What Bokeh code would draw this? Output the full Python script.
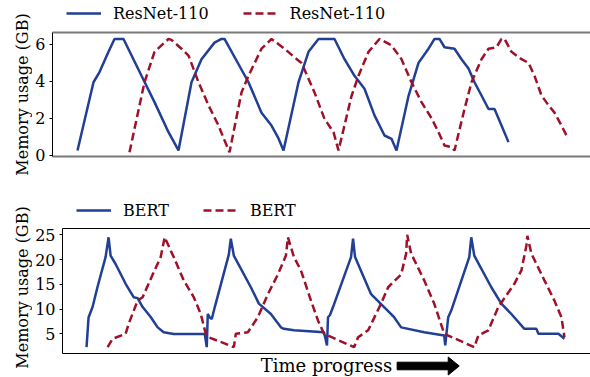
import math
from bokeh.plotting import figure
from bokeh.layouts import column, row
from bokeh.models import Range1d, LinearAxis, FixedTicker, Legend, LegendItem
from bokeh.embed import file_html
from bokeh.resources import INLINE
from bokeh.core.properties import value

BLUE = "#213f95"
RED = "#9f1029"
FONT = "DejaVu Serif"

# ---------------- data: ResNet-110 (time index, memory GB) ----------------
resnet_a_t = [76, 92, 98, 107, 113, 122, 140, 153, 167, 177, 190, 200, 213, 220, 223,
              247, 260, 270, 277, 282, 297, 307, 317, 333, 343, 353, 363, 373, 383, 390,
              395, 407, 417, 427, 433, 438, 443, 453, 460, 467, 473, 480, 487, 493, 500, 507]
resnet_a_mem = [0.25, 3.95, 4.5, 5.6, 6.3, 6.3, 4.3, 2.87, 1.24, 0.25, 3.95, 5.2, 6.1, 6.3, 6.3,
                3.95, 2.3, 1.6, 0.9, 0.25, 3.95, 5.6, 6.3, 6.3, 5.2, 4.3, 3.6, 2.15, 1.06, 0.88,
                0.25, 3.2, 5.0, 5.77, 6.3, 6.3, 5.85, 5.77, 5.2, 4.7, 3.95, 3.23, 2.5, 2.5, 1.6, 0.7]

resnet_b_t = [128, 143, 153, 167, 170, 180, 187, 197, 207, 217, 223, 228,
              240, 247, 260, 270, 283, 293, 300, 313, 323, 332, 337,
              350, 357, 367, 378, 390, 400, 410, 420, 430, 437, 443, 450, 453,
              463, 470, 480, 487, 495, 500, 503, 510, 520, 527, 533, 540, 547, 553, 560, 565]
resnet_b_mem = [0.15, 3.95, 5.6, 6.3, 6.25, 5.77, 5.4, 3.95, 2.7, 1.6, 0.8, 0.15,
                3.4, 4.3, 5.77, 6.3, 5.77, 5.3, 5.0, 3.4, 1.96, 1.24, 0.25,
                3.2, 4.3, 5.6, 6.3, 5.95, 5.2, 3.95, 2.87, 2.0, 1.24, 0.52, 0.43, 0.25,
                2.5, 3.95, 5.2, 5.77, 5.85, 6.3, 6.3, 5.6, 5.2, 5.0, 4.3, 3.23, 2.7, 2.3, 1.6, 1.06]

# ---------------- data: BERT ----------------
bert_a_t = [86, 88, 92, 97, 105, 108, 110, 115, 125, 133, 137, 142, 150, 157, 163, 173,
            204, 206, 207, 209, 211, 214, 228, 230, 233, 250, 258, 270, 280, 283, 293,
            323, 326, 327, 329, 332, 350, 352, 354, 370, 383, 393, 400, 423,
            443, 444, 447, 450, 468, 470, 473, 490, 500, 510, 523, 535, 537, 557, 563]
bert_a_mem = [2.3, 8.3, 10.4, 14.5, 20.5, 24.5, 20.8, 19.1, 15.1, 12.4, 12.2, 10.4, 8.4, 6.3, 5.3, 4.95,
              4.95, 2.3, 9.0, 8.3, 8.0, 10.4, 21.0, 24.2, 20.8, 14.4, 11.1, 9.0, 6.3, 6.0, 5.7,
              5.3, 2.65, 8.35, 8.8, 10.4, 20.5, 24.2, 20.5, 13.0, 10.4, 8.35, 6.3, 5.3,
              4.65, 2.65, 8.35, 9.7, 20.5, 24.5, 20.8, 14.4, 11.1, 9.0, 6.0, 6.0, 5.0, 5.0, 4.0]

bert_b_t = [107, 112, 125, 128, 137, 142, 153, 160, 164, 173, 183, 193, 200, 205, 208,
            233, 235, 247, 257, 267, 277, 285, 287, 293, 300, 310, 317, 323,
            353, 357, 367, 380, 387, 400, 405, 406, 410, 423, 433, 443,
            473, 477, 487, 497, 513, 520, 525, 526, 530, 543, 553, 560, 563]
bert_b_mem = [2.3, 4.0, 5.0, 7.0, 11.7, 12.4, 17.4, 20.5, 24.5, 20.5, 15.8, 12.4, 9.0, 5.0, 4.3,
              2.3, 5.0, 5.3, 8.35, 13.0, 17.0, 20.8, 24.5, 20.5, 17.8, 11.7, 7.7, 5.0,
              2.3, 4.3, 5.7, 11.1, 14.4, 17.0, 21.2, 25.0, 21.2, 15.8, 11.1, 5.0,
              2.3, 4.65, 5.7, 10.4, 15.1, 17.8, 22.8, 24.8, 21.2, 15.8, 11.7, 8.35, 4.3]

resnet_yticks = [0, 2, 4, 6]
bert_yticks = [5, 10, 15, 20, 25]
legend_top = ["ResNet-110", "ResNet-110"]
legend_bottom = ["BERT", "BERT"]
y_title = "Memory usage (GB)"
x_title = "Time progress"

SVG = dict(output_backend="svg", toolbar_location=None)
STRIP_W = 32
MAIN_W = 590 - STRIP_W


def style_left(ax, ticks):
    ax.ticker = FixedTicker(ticks=ticks)
    ax.axis_line_color = "black"
    ax.axis_line_width = 1
    ax.major_tick_line_color = "black"
    ax.major_tick_out = 3
    ax.major_tick_in = 0
    ax.minor_tick_line_color = None
    ax.major_label_text_font = FONT
    ax.major_label_text_font_size = "16px"
    ax.major_label_text_color = "black"
    ax.major_label_standoff = 4


def plain_axis(ax, color, width):
    ax.ticker = FixedTicker(ticks=[])
    ax.axis_line_color = color
    ax.axis_line_width = width
    ax.major_tick_line_color = None
    ax.minor_tick_line_color = None
    ax.major_tick_out = 0
    ax.major_tick_in = 0
    ax.major_label_standoff = 0


def strip_fig(w, h, xr, yr):
    f = figure(width=w, height=h, x_range=Range1d(*xr), y_range=Range1d(*yr),
               x_axis_type=None, y_axis_type=None, min_border=0, **SVG)
    f.outline_line_color = None
    return f


def legend_strip(h, labels, x, y):
    f = strip_fig(MAIN_W, h, (0, 1), (0, 1))
    ra = f.line([-10, -9], [-10, -9], color=BLUE, line_width=2.5)
    rb = f.line([-10, -9], [-10, -9], color=RED, line_width=2.5, line_dash="8 4")
    f.add_layout(Legend(items=[LegendItem(label=value(labels[0]), renderers=[ra]),
                               LegendItem(label=value(labels[1]), renderers=[rb])],
                        location=(x, y), orientation="horizontal",
                        glyph_width=35, glyph_height=20, label_standoff=12, spacing=34,
                        padding=0, margin=0, border_line_color=None, background_fill_alpha=0,
                        label_text_font=FONT, label_text_font_size="16px",
                        label_text_color="black", label_height=20))
    return f


def ytitle_strip(h, cy):
    f = strip_fig(STRIP_W, h, (0, STRIP_W), (h, 0))
    f.text(x=[22], y=[cy], text=[y_title], angle=math.pi / 2,
           text_align="center", text_baseline="middle", text_font=value(FONT),
           text_font_size="16px", text_color="black")
    return f


# ================= upper block (ResNet-110) =================
leg1 = legend_strip(26, legend_top, 14, 3)

p1 = figure(width=MAIN_W, height=164, x_range=Range1d(51, 589), y_range=Range1d(-0.08, 6.65),
            min_border_left=51 - STRIP_W, min_border_right=0, min_border_top=6,
            min_border_bottom=34, **SVG)
p1.grid.visible = False
p1.outline_line_color = None
style_left(p1.yaxis[0], resnet_yticks)
plain_axis(p1.xaxis[0], "#7a7a7a", 2)
top1 = LinearAxis()
plain_axis(top1, "#7a7a7a", 2)
p1.add_layout(top1, "above")
p1.line(resnet_a_t, resnet_a_mem, color=BLUE, line_width=2.5)
p1.line(resnet_b_t, resnet_b_mem, color=RED, line_width=2.5, line_dash="8 4")

upper = row(ytitle_strip(190, 94), column(leg1, p1))

# ================= lower block (BERT) =================
leg2 = legend_strip(32, legend_bottom, 14, 2)

p2 = figure(width=MAIN_W, height=132, x_range=Range1d(62, 589), y_range=Range1d(1.02, 26.27),
            min_border_left=62 - STRIP_W, min_border_right=0, min_border_top=6,
            min_border_bottom=1, **SVG)
p2.grid.visible = False
p2.outline_line_color = None
style_left(p2.yaxis[0], bert_yticks)
plain_axis(p2.xaxis[0], "black", 1.2)
top2 = LinearAxis()
plain_axis(top2, "black", 1.2)
p2.add_layout(top2, "above")
p2.line(bert_a_t, bert_a_mem, color=BLUE, line_width=2.5)
p2.line(bert_b_t, bert_b_mem, color=RED, line_width=2.5, line_dash="8 4")

# x title with arrow (its frame is aligned with the BERT panel's frame)
p3 = strip_fig(MAIN_W, 23, (62, 589), (23, 0))
p3.text(x=[325.5], y=[11], text=[x_title], text_align="center", text_baseline="middle",
        text_font=value(FONT), text_font_size="18px", text_color="black")
ax0, ax1, axh, cy = 396, 458, 447, 11.5
p3.patch(x=[ax0, axh, axh, ax1, axh, axh, ax0],
         y=[cy - 3.8, cy - 3.8, cy - 9, cy, cy + 9, cy + 3.8, cy + 3.8],
         color="black")

lower = row(ytitle_strip(187, 97), column(leg2, p2, p3))

open("out.html", "w").write(file_html([upper, lower], INLINE))
